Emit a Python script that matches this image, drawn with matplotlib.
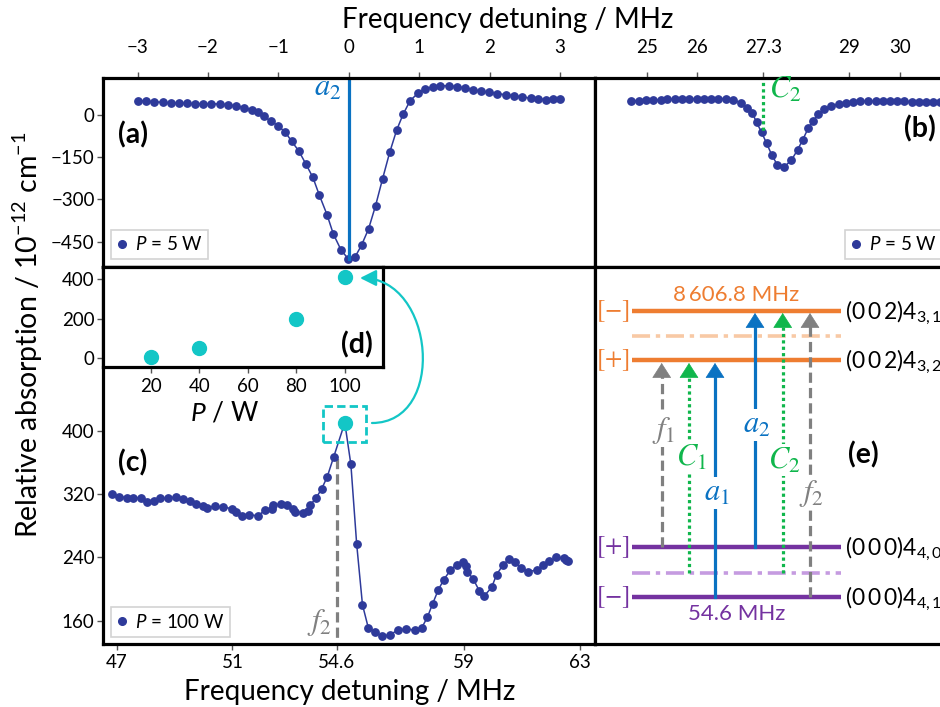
import matplotlib.pyplot as plt
from matplotlib.lines import Line2D
from matplotlib.patches import Rectangle, FancyArrowPatch
from matplotlib.path import Path

plt.rcParams['font.family'] = ['Lato', 'DejaVu Sans']
plt.rcParams['mathtext.fontset'] = 'custom'
plt.rcParams['mathtext.rm'] = 'Lato'
plt.rcParams['mathtext.it'] = 'Lato:italic'
plt.rcParams['mathtext.bf'] = 'Lato:bold'

# ---- data ----
# (a) P = 5 W, around the a2 line
a_x = [-2.99, -2.88, -2.76, -2.64, -2.53, -2.41, -2.30, -2.19, -2.07, -1.95, -1.83, -1.72, -1.60, -1.49,
       -1.37, -1.29, -1.21, -1.11, -1.00, -0.90, -0.81, -0.71, -0.61, -0.51, -0.42, -0.31, -0.22, -0.11,
       -0.01, 0.09, 0.18, 0.28, 0.38, 0.48, 0.58, 0.68, 0.77, 0.87, 0.98, 1.08, 1.19, 1.30, 1.42, 1.53,
       1.65, 1.76, 1.88, 1.99, 2.11, 2.23, 2.34, 2.46, 2.58, 2.69, 2.80, 2.90, 3.00]
a_y = [51, 49, 47, 45, 43, 42, 42, 40, 40, 40, 39, 37, 32, 26, 17, 10, -5, -21, -39, -62, -94, -128,
       -174, -222, -284, -354, -423, -480, -511, -504, -463, -405, -322, -226, -133, -53, 2, 51, 77, 92,
       100, 104, 104, 101, 96, 90, 85, 81, 76, 72, 69, 64, 60, 57, 55, 56, 56]
# (b) P = 5 W, around C2
b_x = [24.70, 24.85, 24.99, 25.13, 25.28, 25.41, 25.56, 25.70, 25.84, 25.99, 26.13, 26.27, 26.41, 26.56,
       26.71, 26.86, 26.99, 27.09, 27.17, 27.27, 27.37, 27.47, 27.58, 27.72, 27.86, 27.98, 28.08, 28.19,
       28.29, 28.39, 28.51, 28.65, 28.79, 28.93, 29.08, 29.22, 29.38, 29.52, 29.66, 29.80, 29.95, 30.09,
       30.23, 30.37, 30.51, 30.66, 30.79]
b_y = [51, 51, 52, 53, 55, 56, 56, 57, 58, 58, 58, 58, 58, 58, 52, 44, 24, 6, -26, -62, -101, -142,
       -177, -184, -160, -124, -89, -47, -20, 2, 20, 32, 39, 44, 47, 49, 49, 49, 49, 49, 49, 49, 47, 47,
       46, 46, 46]
# (c) P = 100 W, around f2
c_x = [46.83, 47.09, 47.37, 47.55, 47.83, 48.06, 48.30, 48.50, 48.78, 49.05, 49.28, 49.53, 49.74, 49.99,
       50.13, 50.39, 50.68, 50.97, 51.14, 51.34, 51.58, 51.89, 52.12, 52.35, 52.39, 52.66, 52.87, 53.10,
       53.16, 53.42, 53.62, 53.67, 53.88, 54.08, 54.27, 54.50, 54.88, 55.09, 55.29, 55.49, 55.69, 55.93,
       56.18, 56.44, 56.72, 57.01, 57.30, 57.54, 57.73, 57.91, 58.11, 58.30, 58.53, 58.74, 58.97, 59.08,
       59.11, 59.31, 59.52, 59.69, 59.95, 60.12, 60.35, 60.56, 60.75, 60.95, 61.21, 61.50, 61.73, 61.94,
       62.19, 62.45, 62.51, 62.60]
c_y = [320, 317, 316, 315, 316, 311, 312, 315, 315, 317, 314, 312, 308, 305, 303, 305, 304, 302, 298,
       293, 294, 293, 300, 301, 306, 308, 306, 302, 298, 297, 299, 306, 315, 327, 342, 368, 411, 358,
       257, 180, 151, 145, 140, 142, 148, 149, 148, 151, 164, 181, 199, 212, 224, 231, 234, 229, 222,
       213, 198, 191, 202, 218, 231, 238, 234, 227, 222, 224, 230, 235, 240, 239, 237, 235]
# (d) peak height vs power
d_power = [20, 40, 80, 100]
d_abs = [6, 53, 198, 407]

a_ticks = [-3, -2, -1, 0, 1, 2, 3]
b_ticks = [25, 26, 27.3, 29, 30]
b_labels = ['25', '26', '27.3', '29', '30']
c_ticks = [47, 51, 54.6, 59, 63]
c_labels = ['47', '51', '54.6', '59', '63']
a2_pos, c2_pos, f2_pos = 0.0, 27.3, 54.6

# (e) energy diagram (diagram units)
sp = '\u2009'
lev_y = [310.7, 360.0, 547.3, 596.7]
lev_sym = ['[-]', '[+]', '[+]', '[-]']
lev_name = ['(0' + sp + '0' + sp + '2)4$_{3,1}$', '(0' + sp + '0' + sp + '2)4$_{3,2}$',
            '(0' + sp + '0' + sp + '0)4$_{4,0}$', '(0' + sp + '0' + sp + '0)4$_{4,1}$']
mid_y = [335.7, 572.7]
tr_name = ['f_1', 'C_1', 'a_1', 'a_2', 'C_2', 'f_2']
tr_x = [661.7, 689, 715, 755, 782.7, 810]
tr_from = [547.3, 572.7, 596.7, 547.3, 572.7, 596.7]
tr_to = [363, 363, 363, 313, 313, 313]
tr_lab_y = [430, 457, 493, 425, 460, 493]

navy = '#2E3A9A'
cyan = '#13C6C6'
blue = '#0A72C2'
green = '#10B64C'
gray = '#808080'
orange = '#EE7D31'
orange_l = '#F8C9A5'
purple = '#7432A0'
purple_l = '#C59BE0'
tr_col = [gray, green, blue, blue, green, gray]
tr_ls = [(0, (3.2, 1.6)), (0, (1, 1)), '-', '-', (0, (1, 1)), (0, (3.2, 1.6))]

W, H = 940, 707
fig = plt.figure(figsize=(W / 100, H / 100), dpi=100)


def box(l, t, r, b):
    return [l / W, 1 - b / H, (r - l) / W, (b - t) / H]


def frame(ax):
    for s in ax.spines.values():
        s.set_linewidth(2.3)
        s.set_color('black')


def legend(ax, label, loc):
    h = Line2D([], [], marker='o', ls='', color=navy, ms=5.5, label=label)
    lg = ax.legend(handles=[h], loc=loc, fontsize=13.5, frameon=True, fancybox=False,
                   handlelength=0.6, handletextpad=0.4, borderpad=0.3, borderaxespad=0.4)
    lg.get_frame().set_edgecolor('#c8c8c8')
    lg.get_frame().set_linewidth(1.2)


tick_kw = dict(labelsize=13.5, width=1, length=4, color='#555555')
top_y, mid, bot_y, split = 78, 266.5, 644, 595

# ---- (a) ----
ax_a = fig.add_axes(box(103, top_y, split, mid))
ax_a.plot(a_x, a_y, '-o', color=navy, ms=5.3, lw=1.1)
ax_a.plot([a2_pos, a2_pos], [140, min(a_y)], color=blue, lw=2.3)
ax_a.text(a2_pos - 0.1, 95, '$a_2$', color=blue, fontsize=22, ha='right', va='center', math_fontfamily='stix')
ax_a.set_xlim(-3.49, 3.495)
ax_a.set_ylim(-538.5, 131.5)
ax_a.xaxis.tick_top()
ax_a.set_xticks(a_ticks)
ax_a.set_yticks([0, -150, -300, -450])
ax_a.tick_params(axis='x', pad=12, **tick_kw)
ax_a.tick_params(axis='y', pad=2, **tick_kw)
ax_a.text(0.03, 0.70, '(a)', transform=ax_a.transAxes, fontsize=20.5, fontweight='bold', va='center')
legend(ax_a, '$P$ = 5 W', 'lower left')
frame(ax_a)

# ---- (b) ----
ax_b = fig.add_axes(box(split, top_y, 950, mid))
ax_b.plot(b_x, b_y, '-o', color=navy, ms=5.3, lw=1.1)
ax_b.plot([c2_pos, c2_pos], [140, -59], color=green, lw=2.3, ls=(0, (1, 1)))
ax_b.text(c2_pos + 0.12, 92, '$C_2$', color=green, fontsize=22, ha='left', va='center', math_fontfamily='stix')
ax_b.set_xlim(23.98, 30.99)
ax_b.set_ylim(-538.5, 131.5)
ax_b.xaxis.tick_top()
ax_b.set_xticks(b_ticks, b_labels)
ax_b.set_yticks([])
ax_b.tick_params(axis='x', pad=12, **tick_kw)
ax_b.text(0.915, 0.73, '(b)', transform=ax_b.transAxes, fontsize=20.5, fontweight='bold', va='center', ha='center')
legend(ax_b, '$P$ = 5 W', 'lower right')
frame(ax_b)

# ---- (c) ----
ax_c = fig.add_axes(box(103, mid, split, bot_y))
ax_c.plot([f2_pos, f2_pos], [100, 370], color=gray, lw=2.3, ls=(0, (3.2, 1.6)), zorder=1)
ax_c.plot(c_x, c_y, '-o', color=navy, ms=5.3, lw=1.1, zorder=2)
pk = c_y.index(max(c_y))
ax_c.plot(c_x[pk], c_y[pk], 'o', color=cyan, ms=10, zorder=3)
ax_c.add_patch(Rectangle((c_x[pk] - 0.76, c_y[pk] - 25), 1.48, 46, fill=False, ec=cyan, lw=2,
                         ls=(0, (3, 1.5)), zorder=3))
ax_c.text(f2_pos - 0.15, 158, '$f_2$', color=gray, fontsize=22, ha='right', va='center', math_fontfamily='stix')
ax_c.set_xlim(46.53, 63.52)
ax_c.set_ylim(130.2, 609.2)
ax_c.set_xticks(c_ticks, c_labels)
ax_c.set_yticks([160, 240, 320, 400])
ax_c.tick_params(axis='x', pad=3, **tick_kw)
ax_c.tick_params(axis='y', pad=2, **tick_kw)
ax_c.text(0.03, 0.48, '(c)', transform=ax_c.transAxes, fontsize=20.5, fontweight='bold', va='center')
legend(ax_c, '$P$ = 100 W', 'lower left')
frame(ax_c)

# ---- (d) inset ----
ax_d = fig.add_axes(box(103, mid, 383, 367))
ax_d.plot(d_power, d_abs, 'o', color=cyan, ms=10)
ax_d.set_xlim(0.37, 115.6)
ax_d.set_ylim(-42.7, 461.7)
ax_d.set_xticks([20, 40, 60, 80, 100])
ax_d.set_yticks([0, 200, 400])
ax_d.tick_params(axis='x', pad=4, **tick_kw)
ax_d.tick_params(axis='y', pad=2, **tick_kw)
ax_d.text(0.905, 0.22, '(d)', transform=ax_d.transAxes, fontsize=20.5, fontweight='bold', va='center', ha='center')
frame(ax_d)
fig.text(225 / W, 1 - 413 / H, '$P$ / W', fontsize=19, ha='center', va='center')

# curved arrow from the peak in (c) to the 100 W point in (d)
verts = [(372 / W, 1 - 423 / H), (447 / W, 1 - 423 / H), (435 / W, 1 - 278 / H), (360 / W, 1 - 278 / H)]
arr = FancyArrowPatch(path=Path(verts, [Path.MOVETO, Path.CURVE4, Path.CURVE4, Path.CURVE4]),
                      arrowstyle='-|>,head_length=0.7,head_width=0.35', mutation_scale=14,
                      color=cyan, lw=1.6, transform=fig.transFigure)
fig.add_artist(arr)

# ---- (e) energy levels ----
ax_e = fig.add_axes(box(split, mid, 950, bot_y))
ax_e.set_xlim(split, 950)
ax_e.set_ylim(bot_y, mid)
ax_e.set_xticks([])
ax_e.set_yticks([])
frame(ax_e)
x0, x1 = 631.7, 840.7
for i, y in enumerate(lev_y):
    col = orange if i < 2 else purple
    ax_e.plot([x0, x1], [y, y], color=col, lw=3.2, solid_capstyle='butt')
    ax_e.text(613, y, '$' + lev_sym[i] + '$', color=col, fontsize=18, ha='center', va='center',
              math_fontfamily='stix')
    ax_e.text(845, y + 2, lev_name[i], fontsize=16.5, ha='left', va='center')
for y, col in zip(mid_y, [orange_l, purple_l]):
    ax_e.plot([x0, x1], [y, y], color=col, lw=2.6, ls=(0, (5, 1.6, 1.2, 1.6)))
ax_e.text(736, 295, '8\u2009606.8 MHz', color=orange, fontsize=16, ha='center', va='center')
ax_e.text(737, 614, '54.6 MHz', color=purple, fontsize=16, ha='center', va='center')
for i in range(len(tr_x)):
    x = tr_x[i]
    ax_e.plot([x, x], [tr_from[i], tr_to[i] + 8], color=tr_col[i], lw=2.3, ls=tr_ls[i], zorder=2)
    ax_e.annotate('', xy=(x, tr_to[i]), xytext=(x, tr_to[i] + 12),
                  arrowprops=dict(arrowstyle='-|>,head_length=0.5,head_width=0.32', color=tr_col[i],
                                  lw=0.5, mutation_scale=20, shrinkA=0, shrinkB=0), zorder=3)
    ax_e.text(x + 2, tr_lab_y[i], '$' + tr_name[i] + '$', color=tr_col[i], fontsize=22, ha='center',
              va='center', math_fontfamily='stix', zorder=4,
              bbox=dict(fc='white', ec='none', pad=1))
ax_e.text(863, 455, '(e)', fontsize=20.5, fontweight='bold', ha='center', va='center')

# ---- shared labels ----
fig.text(508 / W, 1 - 20 / H, 'Frequency detuning / MHz', fontsize=20, ha='center', va='center')
fig.text(350 / W, 1 - 692 / H, 'Frequency detuning / MHz', fontsize=20, ha='center', va='center')
fig.text(28 / W, 1 - 335 / H, 'Relative absorption / 10$^{-12}$ cm$^{-1}$', fontsize=20.5, rotation=90,
         ha='center', va='center')

fig.savefig('out.png', dpi=100)
